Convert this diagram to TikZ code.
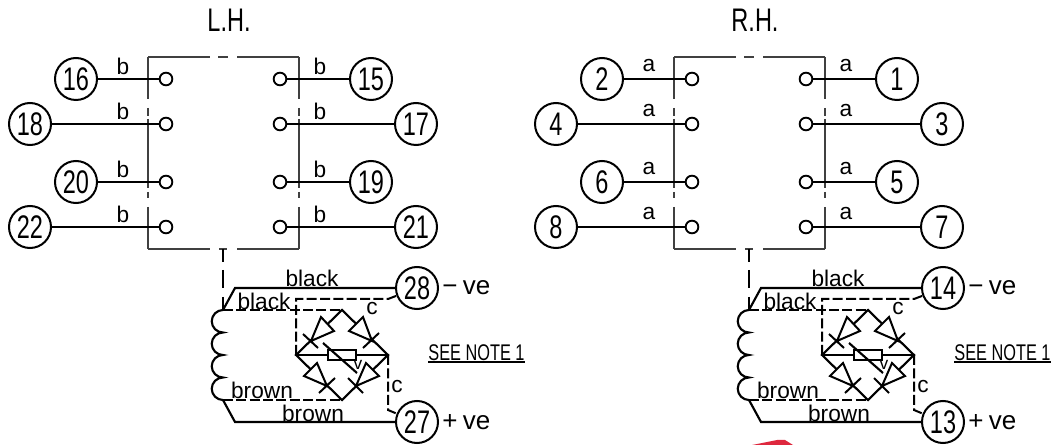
\documentclass[tikz,border=0pt]{standalone}
\usepackage{fontspec}
\setmainfont{Liberation Sans}
\newfontfamily\narrowfont[FakeStretch=0.72]{Liberation Sans}
\newfontfamily\notefont[FakeStretch=0.72]{Liberation Sans}
\definecolor{stray}{RGB}{222,40,62}
\newcommand{\bignum}{\fontsize{24.5pt}{26pt}\narrowfont}
\tikzstyle{terminal}=[circle,draw,line width=1.5pt,minimum size=31.5pt,inner sep=0pt,font=\bignum]
\tikzstyle{contact}=[circle,draw,line width=1.4pt,minimum size=9.5pt,inner sep=0pt]
\tikzstyle{wire}=[draw,line width=1.6pt]
\tikzstyle{dash wire}=[draw,line width=1.5pt,dash pattern=on 7.5pt off 2.5pt]
\tikzstyle{frame}=[draw,line width=0.8pt,black!75]
\tikzstyle{tag}=[font=\fontsize{17pt}{19pt}\selectfont,inner sep=0pt]
\tikzstyle{polarity}=[font=\fontsize{19.5pt}{21pt}\selectfont,inner sep=0pt,anchor=west]
\tikzstyle{diode}=[draw,line width=1.5pt,line join=miter]
\begin{document}
\begin{tikzpicture}[x=0.75pt,y=-0.75pt]
    \useasboundingbox (0,0) rectangle (1054,445);
    % One panel for each hand
    \foreach \off/\head/\wirelab/\na/\nb/\nc/\nd/\ne/\nf/\ng/\nh/\nminus/\nplus in {
        0/L.H./b/16/18/20/22/15/17/19/21/28/27,
        526/R.H./a/2/4/6/8/1/3/5/7/14/13}
    {
    \begin{scope}[shift={(\off,0)}]
    \node[font=\bignum,inner sep=0pt] (head) at (229,20) {\head};
    % Draw the housing, with its breaks
    \coordinate (tl) at (148,57);
    \coordinate (tr) at (299,57);
    \coordinate (bl) at (148,249);
    \coordinate (br) at (299,249);
    \path[frame] (tl) -- (210,57) (218,57) -- (228,57) (237,57) -- (tr);
    \path[frame] (bl) -- (210,249) (219,249) -- (227,249) (237,249) -- (br);
    \foreach \xx in {148,299}
    \path[frame] (\xx,57) -- (\xx,99) (\xx,108) -- (\xx,116) (\xx,119) -- (\xx,188)
        (\xx,192) -- (\xx,198) (\xx,207) -- (\xx,249);
    % Then the terminals and the contacts
    \foreach \pos/\name/\txt in {
        {(76,79)/ta/\na},{(30,124)/tb/\nb},{(76,182)/tc/\nc},{(30,227)/td/\nd},
        {(371,79)/te/\ne},{(416,124)/tf/\nf},{(371,182)/tg/\ng},{(416,227)/th/\nh}}
    \node[terminal] (\name) at \pos {\txt};
    \foreach \pos/\name in {
        {(166,79)/ca},{(166,124)/cb},{(166,182)/cc},{(166,227)/cd},
        {(280,79)/ce},{(280,124)/cf},{(280,182)/cg},{(280,227)/ch}}
    \node[contact] (\name) at \pos {};
    % Connect terminals with contacts
    \foreach \source/ \dest in {ta/ca,tb/cb,tc/cc,td/cd,te/ce,tf/cf,tg/cg,th/ch}
    \path[wire] (\source) -- (\dest);
    \foreach \yy in {66,111,169,214} {
        \node[tag] (la\yy) at (123,\yy) {\wirelab};
        \node[tag] (lb\yy) at (320,\yy) {\wirelab};
    }
    % The coil and its leads
    \node[terminal] (neg) at (417,288) {\nminus};
    \node[terminal] (plus) at (417,422) {\nplus};
    \node[polarity] (negtxt) at (442,288) {−\hspace{4pt}ve};
    \node[polarity] (plustxt) at (442,422) {+\hspace{4pt}ve};
    \coordinate (coiltop) at (223,310);
    \coordinate (coilbot) at (223,400);
    \coordinate (btop) at (342,310);
    \coordinate (bleft) at (296,355);
    \coordinate (bright) at (388,355);
    \coordinate (bbot) at (342,400);
    \path[wire] (223,249) -- (223,262) (223,270) -- (223,288) (223,297) -- (coiltop);
    \path[wire] (coiltop) arc (270:90:11.25) arc (270:90:11.25) arc (270:90:11.25) arc (270:90:11.25);
    \path[wire] (coiltop) -- (235,288) -- (neg);
    \path[wire] (coilbot) -- (235,422) -- (plus);
    \path[dash wire] (coiltop) -- (btop);
    \path[dash wire] (coilbot) -- (bbot);
    \path[dash wire] (bleft) -- (296,299) -- (388,299) -- (neg);
    \path[dash wire] (bright) -- (388,410) -- (plus);
    % The bridge
    \path[wire] (btop) -- (bleft) -- (bbot) -- (bright) -- cycle;
    \path[wire] (bleft) -- (bright);
    \node[draw,line width=1.4pt,fill=white,minimum width=20.5pt,minimum height=7.5pt,inner sep=0pt] (res) at (342,355) {};
    \path[wire] (323,343) -- (357,373);
    \node[font=\fontsize{13pt}{14pt}\selectfont,inner sep=0pt] (vtxt) at (358,365) {v};
    \foreach \pa/\pb/\pc/\pd/\pe in {
        {(321,317)/(334,331)/(311,341)/(303,334)/(318,348)},
        {(363,317)/(349,331)/(372,341)/(379,333)/(363,348)},
        {(317,363)/(304,376)/(327,386)/(335,378)/(319,393)},
        {(366,363)/(379,376)/(356,386)/(348,378)/(363,393)}}
    \path[diode,fill=white] \pa -- \pb -- \pc -- cycle \pd -- \pe;
    \node[tag] (cup) at (372,309) {c};
    \node[tag] (cdown) at (397,387) {c};
    \node[tag] (blka) at (312,278) {black};
    \node[tag] (blkb) at (264,301) {black};
    \node[tag] (brna) at (262,390) {brown};
    \node[tag] (brnb) at (313,413) {brown};
    \node[inner sep=0pt,font=\fontsize{17pt}{18pt}\notefont] (note) at (476.5,353) {SEE NOTE 1};
    \path[draw,line width=1.1pt] (428,362) -- (525,362);
    \end{scope}
    }
    % Stray mark on the bottom edge
    \fill[stray] (752,445) -- (777,440) -- (785,440) -- (793,445) -- cycle;
\end{tikzpicture}
\end{document}
